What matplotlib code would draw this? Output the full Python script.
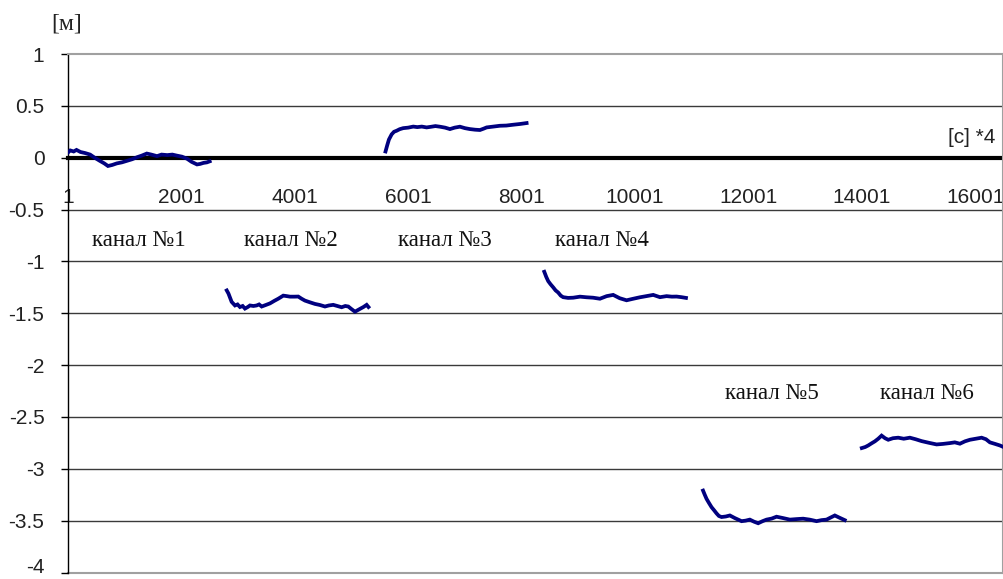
import matplotlib
matplotlib.use("Agg")
import matplotlib.pyplot as plt
from matplotlib.transforms import ScaledTranslation
import numpy as np

# ---- data ----
channel_labels = ["канал №1", "канал №2", "канал №3", "канал №4", "канал №5", "канал №6"]
channel_start = [1, 2801, 5601, 8401, 11201, 14001]

ch1_t = [0, 40, 100, 150, 220, 300, 390, 470, 560, 640, 705, 780, 860, 950, 1040, 1130, 1220, 1300,
         1390, 1470, 1570, 1650, 1750, 1840, 1920, 2010, 2100, 2180, 2275, 2330, 2390, 2450, 2499]
ch1_v = [0.05, 0.07, 0.06, 0.075, 0.055, 0.045, 0.03, 0.0, -0.03, -0.055, -0.08, -0.07, -0.055, -0.045,
         -0.03, -0.015, 0.005, 0.02, 0.04, 0.03, 0.015, 0.03, 0.025, 0.03, 0.02, 0.01, -0.01, -0.04,
         -0.065, -0.06, -0.05, -0.045, -0.035]

ch2_t = [0, 30, 86, 145, 190, 233, 280, 321, 370, 409, 470, 527, 570, 616, 690, 762, 840, 908, 997,
         1060, 1115, 1190, 1261, 1320, 1379, 1470, 1555, 1640, 1732, 1800, 1878, 1950, 2026, 2090, 2143,
         2200, 2261, 2310, 2349, 2410, 2467, 2499]
ch2_v = [-1.28, -1.31, -1.39, -1.425, -1.415, -1.44, -1.43, -1.455, -1.44, -1.425, -1.43, -1.425, -1.415,
         -1.435, -1.42, -1.405, -1.38, -1.36, -1.33, -1.335, -1.34, -1.34, -1.339, -1.36, -1.378, -1.395,
         -1.41, -1.42, -1.435, -1.425, -1.419, -1.43, -1.442, -1.43, -1.435, -1.46, -1.485, -1.47, -1.458,
         -1.44, -1.419, -1.44]

ch3_t = [0, 30, 60, 108, 150, 196, 250, 312, 400, 489, 560, 640, 725, 800, 880, 959, 1050, 1136, 1220,
         1312, 1400, 1488, 1580, 1665, 1730, 1783, 1900, 2018, 2130, 2252, 2370, 2488]
ch3_v = [0.06, 0.12, 0.175, 0.225, 0.25, 0.26, 0.275, 0.285, 0.29, 0.3, 0.295, 0.3, 0.292, 0.298, 0.305,
         0.299, 0.29, 0.276, 0.29, 0.299, 0.285, 0.276, 0.27, 0.267, 0.28, 0.292, 0.3, 0.308, 0.31, 0.318,
         0.325, 0.334]

ch4_t = [0, 35, 69, 110, 157, 200, 245, 290, 333, 420, 510, 630, 746, 860, 981, 1100, 1215, 1330, 1451,
         1570, 1686, 1800, 1921, 2040, 2157, 2250, 2333, 2420, 2499]
ch4_v = [-1.1, -1.15, -1.19, -1.22, -1.25, -1.28, -1.3, -1.33, -1.345, -1.352, -1.35, -1.34, -1.346,
         -1.35, -1.36, -1.335, -1.323, -1.355, -1.375, -1.36, -1.346, -1.335, -1.323, -1.345, -1.335,
         -1.34, -1.339, -1.345, -1.352]

ch5_t = [0, 30, 62, 105, 150, 195, 238, 280, 326, 400, 473, 560, 679, 750, 825, 900, 972, 1050, 1120,
         1210, 1296, 1410, 1531, 1650, 1765, 1880, 2002, 2090, 2178, 2250, 2324, 2400, 2499]
ch5_v = [-3.21, -3.25, -3.29, -3.33, -3.37, -3.4, -3.43, -3.455, -3.465, -3.46, -3.45, -3.475, -3.505,
         -3.5, -3.49, -3.51, -3.525, -3.505, -3.49, -3.48, -3.462, -3.475, -3.49, -3.485, -3.481, -3.49,
         -3.505, -3.495, -3.49, -3.47, -3.45, -3.47, -3.495]

ch6_t = [0, 60, 113, 170, 231, 290, 349, 410, 466, 550, 642, 740, 848, 950, 1055, 1190, 1319, 1430,
         1554, 1640, 1730, 1820, 1907, 2010, 2113, 2190, 2259, 2350, 2436, 2499]
ch6_v = [-2.8, -2.79, -2.775, -2.755, -2.735, -2.71, -2.68, -2.705, -2.72, -2.705, -2.7, -2.71, -2.7,
         -2.715, -2.733, -2.75, -2.765, -2.76, -2.752, -2.745, -2.758, -2.735, -2.72, -2.71, -2.7, -2.715,
         -2.745, -2.76, -2.775, -2.79]

series_t = [ch1_t, ch2_t, ch3_t, ch4_t, ch5_t, ch6_t]
series_v = [ch1_v, ch2_v, ch3_v, ch4_v, ch5_v, ch6_v]

label_x = [1250, 3930, 6640, 9420, 12420, 15140]
label_y = [-0.80, -0.80, -0.80, -0.80, -2.27, -2.27]

x_ticks = [1, 2001, 4001, 6001, 8001, 10001, 12001, 14001, 16001]
y_ticks = [1, 0.5, 0, -0.5, -1, -1.5, -2, -2.5, -3, -3.5, -4]
y_ticklabels = ["1", "0.5", "0", "-0.5", "-1", "-1.5", "-2", "-2.5", "-3", "-3.5", "-4"]

# ---- figure ----
W, H = 1004, 579
fig = plt.figure(figsize=(W / 100, H / 100), dpi=100)
left_px, right_px, top_px, bot_px = 68, 1003.5, 54, 572.5
ax = fig.add_axes([left_px / W, 1 - bot_px / H, (right_px - left_px) / W, (bot_px - top_px) / H])

ax.set_xlim(1, 16500)
ax.set_ylim(-4, 1)

sans = "Liberation Sans"
serif = "Liberation Serif"

# gridlines
for yv in y_ticks:
    if yv in (1, -4, 0):
        continue
    ax.axhline(yv, color="#3a3a3a", lw=1.0, zorder=1)
ax.axhline(-4, color="#a0a0a0", lw=1.5, zorder=1, clip_on=False)

# series
for s, t, v in zip(channel_start, series_t, series_v):
    ax.plot(np.array(t) + s, v, color="#00007f", lw=2.7, solid_joinstyle="miter", zorder=3)

# spines
ax.spines["top"].set_color("#a0a0a0")
ax.spines["top"].set_linewidth(1.5)
ax.spines["right"].set_color("#a0a0a0")
ax.spines["right"].set_linewidth(1.5)
ax.spines["left"].set_color("#000000")
ax.spines["left"].set_linewidth(1.0)
ax.spines["bottom"].set_position(("data", 0))
ax.spines["bottom"].set_color("#000000")
ax.spines["bottom"].set_linewidth(3.0)
ax.spines["bottom"].set_zorder(2)

ax.set_yticks(y_ticks)
ax.set_yticklabels(y_ticklabels, fontfamily=sans, fontsize=15, color="#222222")
ax.tick_params(axis="y", direction="out", length=5, width=1, pad=12, color="#000000")
# keep the lowest label inside the picture
last = ax.get_yticklabels()[-1]
last.set_transform(last.get_transform() + ScaledTranslation(0, 5 / 72, fig.dpi_scale_trans))

ax.set_xticks(x_ticks)
ax.set_xticklabels([str(x) for x in x_ticks], fontfamily=sans, fontsize=15, color="#222222")
ax.tick_params(axis="x", length=0, pad=22)

for lab, lx, ly in zip(channel_labels, label_x, label_y):
    ax.text(lx, ly, lab, ha="center", va="center", fontfamily=serif, fontsize=16.5, color="#111111")

ax.text(16350, 0.19, "[c] *4", ha="right", va="center", fontfamily=sans, fontsize=15, color="#222222")
fig.text(67 / W, 1 - 24 / H, "[м]", ha="center", va="center", fontfamily=serif, fontsize=17, color="#222222")

fig.savefig("out.png", dpi=100)
